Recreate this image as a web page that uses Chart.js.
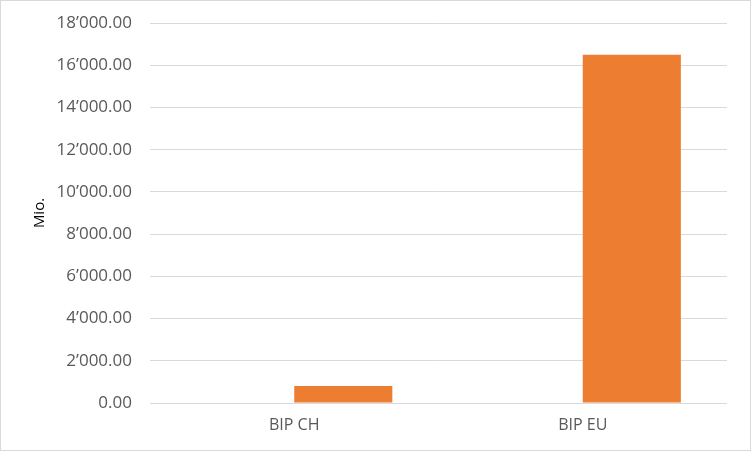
<!DOCTYPE html>
<html>
<head>
<meta charset="utf-8">
<script src="https://cdn.jsdelivr.net/npm/chart.js@4/dist/chart.umd.min.js"></script>
<style>
  html, body { margin: 0; padding: 0; background: #ffffff; }
  #wrap { position: relative; width: 752px; height: 452px; }
  #frame { position: absolute; left: 0; top: 0; width: 751px; height: 451px; box-sizing: border-box; border: 1px solid #d9d9d9; }
  #c { position: absolute; left: 0; top: 0; }
</style>
</head>
<body>
<div id="wrap">
  <div id="frame"></div>
  <canvas id="c" width="752" height="452"></canvas>
</div>
<script>
const categories = ["BIP CH", "BIP EU"];
const series1Values = [null, null];
const series2Values = [800, 16500];
const yTicks = [0, 2000, 4000, 6000, 8000, 10000, 12000, 14000, 16000, 18000];
const yTitle = "Mio.";

function fmt(v) {
  const parts = Number(v).toFixed(2).split(".");
  parts[0] = parts[0].replace(/\B(?=(\d{3})+(?!\d))/g, "\u2019");
  return parts.join(".");
}

const FONT = "'Open Sans', sans-serif";

new Chart(document.getElementById("c"), {
  type: "bar",
  data: {
    labels: categories,
    datasets: [
      { label: "Series 1", data: series1Values, backgroundColor: "#4472C4", borderWidth: 0 },
      { label: "Series 2", data: series2Values, backgroundColor: "#ED7D31", borderWidth: 0 }
    ]
  },
  options: {
    responsive: false,
    animation: false,
    devicePixelRatio: 1,
    layout: { padding: { left: 0, right: 25, top: 23, bottom: 0 } },
    plugins: { legend: { display: false }, tooltip: { enabled: false } },
    datasets: { bar: { categoryPercentage: 0.68, barPercentage: 1.0 } },
    scales: {
      x: {
        grid: { display: false, drawTicks: false },
        border: { display: false },
        ticks: { color: "#595959", font: { family: FONT, size: 16 }, padding: 13 },
        afterFit: (s) => { s.height = 49; s.paddingLeft = 0; s.paddingRight = 0; }
      },
      y: {
        min: 0, max: 18000,
        afterBuildTicks: (s) => { s.ticks = yTicks.map(v => ({ value: v })); },
        grid: { color: "#d9d9d9", lineWidth: 1, drawTicks: false },
        border: { display: false },
        ticks: { color: "#595959", font: { family: FONT, size: 17 }, padding: 18, callback: (v) => fmt(v) },
        title: { display: true, text: yTitle, color: "#000000", font: { family: FONT, size: 15 }, padding: { top: 31, bottom: 0 } },
        afterFit: (s) => { s.width = 150; s.paddingTop = 0; s.paddingBottom = 0; }
      }
    }
  }
});
</script>
</body>
</html>
